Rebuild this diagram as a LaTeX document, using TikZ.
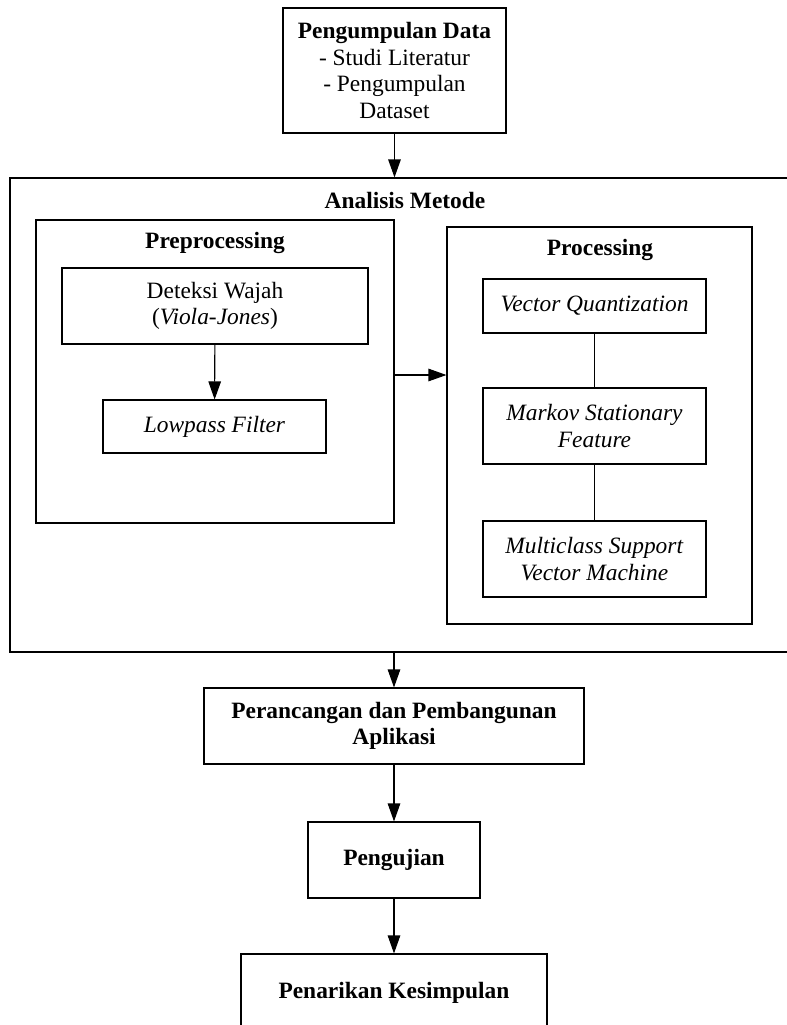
\documentclass[tikz,border=0pt]{standalone}
\usepackage{fontspec}
\setmainfont{Liberation Serif}
\usetikzlibrary{arrows.meta}
\begin{document}
\begin{tikzpicture}[x=1bp,y=-1bp,
  every node/.style={font=\fontsize{23.5}{26.5}\selectfont},
  box/.style={draw, line width=1.1bp, inner sep=0pt, align=center},
  title/.style={font=\fontsize{23.5}{26.5}\selectfont\bfseries, inner sep=0pt},
  arr/.style={line width=1.1bp, -{Triangle[length=18bp,width=12.5bp]}},
  link/.style={line width=1.1bp}]
\useasboundingbox (0,0) rectangle (787,1025);
\clip (0,0) rectangle (787,1025);
% top box
\node[box, minimum width=223bp, minimum height=125bp] (top) at (394.5,70.5)
  {\textbf{Pengumpulan Data}\\- Studi Literatur\\- Pengumpulan\\Dataset};
% big container
\node[box, minimum width=790bp, minimum height=474bp] (big) at (405,415) {};
\node[title] (bigt) at (405,200) {Analisis Metode};
% preprocessing
\node[box, minimum width=358bp, minimum height=303bp] (pre) at (215,371.5) {};
\node[title] (pret) at (215,243) {Preprocessing};
\node[box, minimum width=306bp, minimum height=76bp] (det) at (215,306)
  {Deteksi Wajah\\(\textit{Viola-Jones})};
\node[box, minimum width=223bp, minimum height=53bp] (low) at (214.5,426.5)
  {\textit{Lowpass Filter}};
% processing
\node[box, minimum width=305bp, minimum height=397bp] (proc) at (599.5,425.5) {};
\node[title] (proct) at (600,250) {Processing};
\node[box, minimum width=223bp, minimum height=54bp] (vq) at (594.5,306)
  {\textit{Vector Quantization}};
\node[box, minimum width=223bp, minimum height=76bp] (msf) at (594.5,426)
  {\textit{Markov Stationary}\\\textit{Feature}};
\node[box, minimum width=223bp, minimum height=76bp] (svm) at (594.5,559)
  {\textit{Multiclass Support}\\\textit{Vector Machine}};
% lower chain
\node[box, minimum width=380bp, minimum height=76bp, font=\fontsize{23.5}{26.5}\selectfont\bfseries] (per) at (394,726)
  {Perancangan dan Pembangunan\\Aplikasi};
\node[box, minimum width=172bp, minimum height=76bp, font=\fontsize{23.5}{26.5}\selectfont\bfseries] (pen) at (394,860)
  {Pengujian};
\node[box, minimum width=306bp, minimum height=78bp, font=\fontsize{23.5}{26.5}\selectfont\bfseries] (tar) at (394,993)
  {Penarikan Kesimpulan};
% connectors
\draw[arr] (top.south) -- (top.south |- big.north);
\draw[arr] (det) -- (low);
\draw[arr] ([yshift=-3.5bp]pre.east) -- ([yshift=-3.5bp]proc.west |- pre.east);
\draw[link] (vq) -- (msf);
\draw[link] (msf) -- (svm);
\draw[arr] (per.north |- big.south) -- (per.north);
\draw[arr] (per) -- (pen);
\draw[arr] (pen) -- (tar);
\end{tikzpicture}
\end{document}
